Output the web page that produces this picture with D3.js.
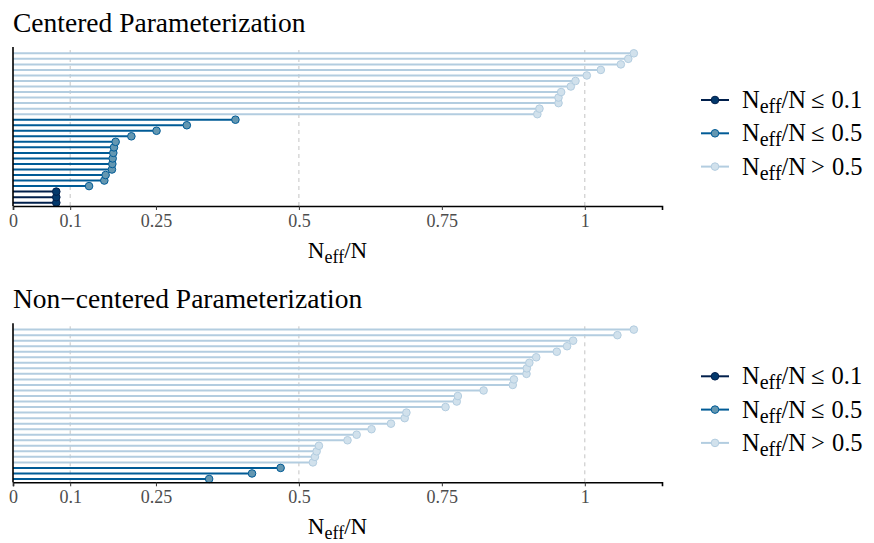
<!DOCTYPE html>
<html>
<head>
<meta charset="utf-8">
<script src="https://cdn.jsdelivr.net/npm/d3@7"></script>
<style>
  body { margin: 0; background: #fff; }
  text { font-family: "Liberation Serif", "DejaVu Serif", serif; }
</style>
</head>
<body>
<script>
var width = 874, height = 543;

// neff ratios, sorted from lowest (bottom row) to highest (top row)
var centeredRatios = [0.0757, 0.0757, 0.0757, 0.133, 0.1597, 0.162, 0.173, 0.1737,
  0.1743, 0.1754, 0.1766, 0.1795, 0.207, 0.251, 0.304, 0.389, 0.917, 0.9207,
  0.954, 0.954, 0.9586, 0.9755, 0.9837, 1.0035, 1.028, 1.063, 1.076, 1.0857];
var noncenteredRatios = [0.343, 0.418, 0.468, 0.5245, 0.528, 0.531, 0.535, 0.585,
  0.601, 0.627, 0.661, 0.685, 0.688, 0.7564, 0.776, 0.778, 0.823, 0.874, 0.876,
  0.898, 0.8986, 0.903, 0.915, 0.951, 0.969, 0.9796, 1.057, 1.0857];

var panelTitles = ["Centered Parameterization", "Non\u2212centered Parameterization"];
var tickValues = [0, 0.1, 0.25, 0.5, 0.75, 1];
var tickLabels = ["0", "0.1", "0.25", "0.5", "0.75", "1"];
var gridValues = [0.1, 0.5, 1];
var legendLabels = ["\u2264", "\u2264", ">"];
var legendCuts = ["0.1", "0.5", "0.5"];

var lineColors = { low: "#011f4b", ok: "#005b96", high: "#b3cde0" };
var fillColors = { low: "#03396c", ok: "#6497b1", high: "#d1e1ec" };
var levels = ["low", "ok", "high"];

function rating(r) {
  if (r <= 0.1) return "low";
  if (r <= 0.5) return "ok";
  return "high";
}

var svg = d3.select("body").append("svg")
  .attr("width", width)
  .attr("height", height);

var x = d3.scaleLinear().domain([0, 1.135]).range([13, 662]);

function drawPanel(values, title, top) {
  var g = svg.append("g").attr("transform", "translate(0," + top + ")");
  var plotTop = 50, plotBottom = 206;

  var y = d3.scalePoint()
    .domain(d3.range(values.length))
    .range([plotBottom, plotTop])
    .padding(0.6);

  g.append("text")
    .attr("x", 13).attr("y", 32)
    .style("font-size", "27.5px")
    .attr("fill", "#000")
    .text(title);

  // dashed reference lines
  g.selectAll(".grid")
    .data(gridValues)
    .enter().append("line")
    .attr("x1", d => x(d)).attr("x2", d => x(d))
    .attr("y1", plotTop).attr("y2", plotBottom)
    .attr("stroke", "#c4c4c4")
    .attr("stroke-width", 1)
    .attr("stroke-dasharray", "4,4");

  var rows = values.map(function(v, i) { return { i: i, v: v, r: rating(v) }; });

  g.selectAll(".seg")
    .data(rows)
    .enter().append("line")
    .attr("x1", x(0)).attr("x2", d => x(d.v))
    .attr("y1", d => y(d.i)).attr("y2", d => y(d.i))
    .attr("stroke", d => lineColors[d.r])
    .attr("stroke-width", 2);

  g.selectAll(".dot")
    .data(rows)
    .enter().append("circle")
    .attr("cx", d => x(d.v)).attr("cy", d => y(d.i))
    .attr("r", 3.8)
    .attr("fill", d => fillColors[d.r])
    .attr("stroke", d => lineColors[d.r])
    .attr("stroke-width", 1);

  // axes
  var xAxis = d3.axisBottom(x)
    .tickValues(tickValues)
    .tickFormat((d, i) => tickLabels[i])
    .tickSize(4)
    .tickPadding(4);

  var ax = g.append("g")
    .attr("transform", "translate(0," + plotBottom + ")")
    .call(xAxis);
  ax.select(".domain").attr("stroke", "#000").attr("stroke-width", 1.6);
  ax.selectAll(".tick line").attr("stroke", "#333").attr("stroke-width", 1);
  ax.selectAll(".tick text")
    .attr("fill", "#4d4d4d")
    .style("font-size", "18px")
    .style("font-family", "'Liberation Serif', serif");

  g.append("line")
    .attr("x1", 13).attr("x2", 13)
    .attr("y1", plotTop - 3).attr("y2", plotBottom)
    .attr("stroke", "#000").attr("stroke-width", 1.6);

  var at = g.append("text")
    .attr("x", (x.range()[0] + x.range()[1]) / 2)
    .attr("y", 258)
    .attr("text-anchor", "middle")
    .style("font-size", "23px");
  at.append("tspan").text("N");
  at.append("tspan").attr("dy", 5).style("font-size", "18px").text("eff");
  at.append("tspan").attr("dy", -5).text("/N");

  // legend
  var lg = g.selectAll(".legend")
    .data(levels)
    .enter().append("g")
    .attr("transform", (d, i) => "translate(0," + (100 + i * 33.3) + ")");
  lg.append("line")
    .attr("x1", 701).attr("x2", 729)
    .attr("stroke", d => lineColors[d]).attr("stroke-width", 2);
  lg.append("circle")
    .attr("cx", 715).attr("r", 3.8)
    .attr("fill", d => fillColors[d])
    .attr("stroke", d => lineColors[d]).attr("stroke-width", 1);
  var lt = lg.append("text")
    .attr("x", 742).attr("y", 8)
    .style("font-size", "24.5px");
  lt.append("tspan").text("N");
  lt.append("tspan").attr("dy", 5).style("font-size", "20px").text("eff");
  lt.append("tspan").attr("dy", -5).text("/N");
  lt.append("tspan").attr("dx", 5).text((d, i) => legendLabels[i]);
  lt.append("tspan").attr("dx", 7).text((d, i) => legendCuts[i]);
}

drawPanel(centeredRatios, panelTitles[0], 0);
drawPanel(noncenteredRatios, panelTitles[1], 276.3);
</script>
</body>
</html>
